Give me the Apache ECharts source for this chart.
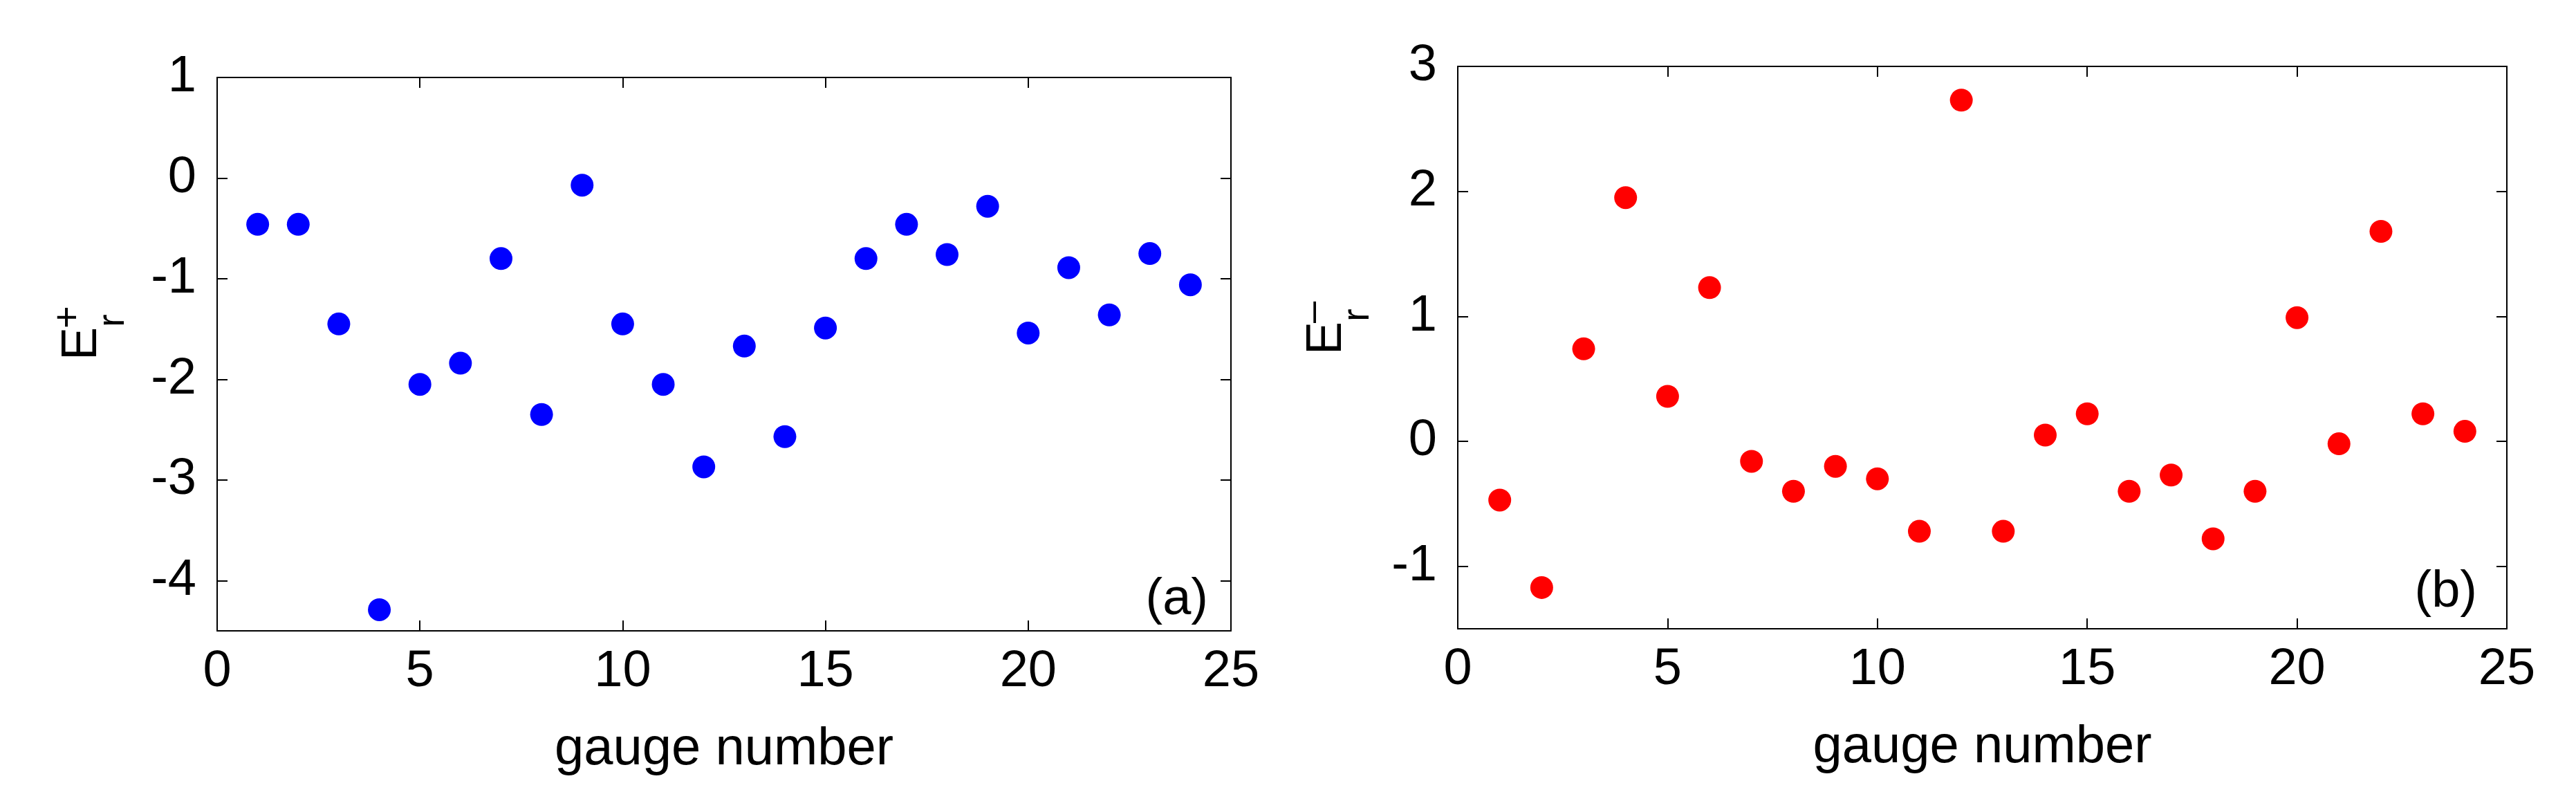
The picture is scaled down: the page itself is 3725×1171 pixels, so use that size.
<!DOCTYPE html>
<html>
<head>
<meta charset="utf-8">
<script src="https://cdn.jsdelivr.net/npm/echarts@6/dist/echarts.min.js"></script>
<style>
  html, body { margin: 0; padding: 0; background: #fff; }
  #chart { width: 3725px; height: 1171px; }
</style>
</head>
<body>
<div id="chart"></div>
<script>
// gauge index on both panels
const gauges = [1, 2, 3, 4, 5, 6, 7, 8, 9, 10, 11, 12, 13, 14, 15, 16, 17, 18, 19, 20, 21, 22, 23, 24];
// panel (a): E_r^+
const ePlus = [-0.46, -0.46, -1.45, -4.29, -2.05, -1.84, -0.80, -2.35, -0.07, -1.45, -2.05, -2.87,
  -1.67, -2.57, -1.49, -0.80, -0.46, -0.76, -0.28, -1.54, -0.89, -1.36, -0.75, -1.06];
// panel (b): E_r^-
const eMinus = [-0.47, -1.17, 0.74, 1.95, 0.36, 1.23, -0.16, -0.40, -0.20, -0.30, -0.72, 2.73,
  -0.72, 0.05, 0.22, -0.40, -0.27, -0.78, -0.40, 0.99, -0.02, 1.68, 0.22, 0.08];

const xTicks = [0, 5, 10, 15, 20, 25];
const yTicksA = [-4, -3, -2, -1, 0, 1];
const yTicksB = [-1, 0, 1, 2, 3];

const FONT = "'Liberation Sans', Arial, Helvetica, sans-serif";
const lineStyle = { color: '#000', width: 2 };

function xAxisPair(gridIndex) {
  const base = {
    gridIndex: gridIndex,
    type: 'value',
    min: xTicks[0],
    max: xTicks[xTicks.length - 1],
    interval: 5,
    splitLine: { show: false },
    axisLine: { show: true, onZero: false, lineStyle: lineStyle },
    axisTick: { show: true, inside: true, length: 15, lineStyle: lineStyle }
  };
  return [
    Object.assign({}, base, {
      position: 'bottom',
      axisLabel: { show: true, color: '#000', fontSize: 74, fontFamily: FONT, margin: 23 },
      name: 'gauge number',
      nameLocation: 'middle',
      nameGap: 134,
      nameTextStyle: { color: '#000', fontSize: 76, fontFamily: FONT }
    }),
    Object.assign({}, base, { position: 'top', axisLabel: { show: false } })
  ];
}

function yAxisPair(gridIndex, min, max, ticks) {
  const base = {
    gridIndex: gridIndex,
    type: 'value',
    min: min,
    max: max,
    splitLine: { show: false },
    axisLine: { show: true, onZero: false, lineStyle: lineStyle },
    axisTick: { show: true, inside: true, length: 15, lineStyle: lineStyle, customValues: ticks }
  };
  return [
    Object.assign({}, base, {
      position: 'left',
      axisLabel: {
        show: true, color: '#000', fontSize: 74, fontFamily: FONT, margin: 30,
        padding: [0, 0, 16, 0], customValues: ticks
      }
    }),
    Object.assign({}, base, { position: 'right', axisLabel: { show: false } })
  ];
}

// rotated axis title E with sub r and a superscript sign
function yTitle(x, y, sign) {
  return {
    type: 'group',
    x: x,
    y: y,
    rotation: Math.PI / 2,
    children: [
      { type: 'text', x: 0, y: 15, style: { text: 'E', fontSize: 72, fontFamily: FONT, fill: '#000', align: 'left', verticalAlign: 'bottom' } },
      { type: 'text', x: 48, y: 52, style: { text: 'r', fontSize: 56, fontFamily: FONT, fill: '#000', align: 'left', verticalAlign: 'bottom' } },
      { type: 'text', x: 46, y: -40, style: { text: sign, fontSize: 56, fontFamily: FONT, fill: '#000', align: 'left', verticalAlign: 'middle' } }
    ]
  };
}

const chart = echarts.init(document.getElementById('chart'), null, { renderer: 'canvas' });

const option = {
  backgroundColor: '#fff',
  animation: false,
  grid: [
    { left: 314, top: 112, width: 1466, height: 800 },
    { left: 2108, top: 96, width: 1517, height: 813 }
  ],
  xAxis: xAxisPair(0).concat(xAxisPair(1)),
  yAxis: yAxisPair(0, -4.5, 1, yTicksA).concat(yAxisPair(1, -1.5, 3, yTicksB)),
  series: [
    {
      type: 'scatter',
      xAxisIndex: 0,
      yAxisIndex: 0,
      symbol: 'circle',
      symbolSize: 33,
      itemStyle: { color: '#0000ff', opacity: 1 },
      data: gauges.map((g, i) => [g, ePlus[i]])
    },
    {
      type: 'scatter',
      xAxisIndex: 2,
      yAxisIndex: 2,
      symbol: 'circle',
      symbolSize: 33,
      itemStyle: { color: '#ff0000', opacity: 1 },
      data: gauges.map((g, i) => [g, eMinus[i]])
    }
  ],
  graphic: [
    yTitle(140, 521, '+'),
    yTitle(1940, 513, '\u2013'),
    { type: 'text', x: 1747, y: 868, style: { text: '(a)', fontSize: 74, fontFamily: FONT, fill: '#000', align: 'right', verticalAlign: 'middle' } },
    { type: 'text', x: 3582, y: 857, style: { text: '(b)', fontSize: 74, fontFamily: FONT, fill: '#000', align: 'right', verticalAlign: 'middle' } }
  ]
};

chart.setOption(option);
</script>
</body>
</html>
